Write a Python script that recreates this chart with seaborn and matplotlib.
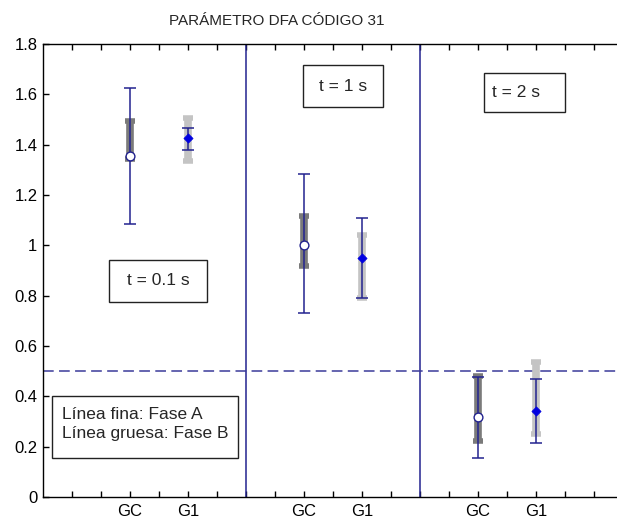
import numpy as np
import pandas as pd
import matplotlib
matplotlib.use("Agg")
import matplotlib.pyplot as plt
import seaborn as sns
from matplotlib.patches import Rectangle

# valores
grupos = ["GC", "G1", "GC", "G1", "GC", "G1"]
posiciones = [3, 5, 9, 11, 15, 17]
media = [1.355, 1.425, 1.0, 0.95, 0.317, 0.343]
fase_a_inf = [1.085, 1.38, 0.73, 0.79, 0.155, 0.216]
fase_a_sup = [1.625, 1.468, 1.283, 1.108, 0.478, 0.468]
fase_b_inf = [1.343, 1.336, 0.918, 0.79, 0.224, 0.25]
fase_b_sup = [1.495, 1.507, 1.118, 1.042, 0.48, 0.536]
separadores = [7, 13]
umbral = 0.5
titulo = "PARÁMETRO DFA CÓDIGO 31"

df = pd.DataFrame({"grupo": grupos, "x": posiciones, "media": media,
                   "a_inf": fase_a_inf, "a_sup": fase_a_sup,
                   "b_inf": fase_b_inf, "b_sup": fase_b_sup})

sns.set_style("ticks")
plt.rcParams["font.family"] = ["Liberation Sans", "DejaVu Sans"]
plt.rcParams["font.size"] = 11

azul = "#23238f"
fig = plt.figure(figsize=(6.17, 5.21), dpi=100)
ax = fig.add_axes([43 / 617, 24 / 521, 580 / 617, 453 / 521])

# linea gruesa: fase B
for _, r in df.iterrows():
    gris = "#7a7a7a" if r["grupo"] == "GC" else "#c4c4c4"
    mid = (r["b_inf"] + r["b_sup"]) / 2
    ax.errorbar(r["x"], mid, yerr=[[mid - r["b_inf"]], [r["b_sup"] - mid]],
                fmt="none", ecolor=gris, elinewidth=5.5, capsize=3.5,
                capthick=4, zorder=2)
    # linea fina: fase A
    ax.errorbar(r["x"], r["media"],
                yerr=[[r["media"] - r["a_inf"]], [r["a_sup"] - r["media"]]],
                fmt="none", ecolor=azul, elinewidth=1.1, capsize=4,
                capthick=1.1, zorder=3)

sns.scatterplot(data=df[df["grupo"] == "GC"], x="x", y="media", ax=ax,
                marker="o", s=40, color="white", edgecolor=azul,
                linewidth=1, zorder=4, legend=False)
sns.scatterplot(data=df[df["grupo"] == "G1"], x="x", y="media", ax=ax,
                marker="D", s=22, color="#0000e0", edgecolor="#0000e0",
                linewidth=0.5, zorder=4, legend=False)

for s in separadores:
    ax.axvline(s, color=azul, lw=1.1, zorder=1)
ax.axhline(umbral, color="#3a3a9a", lw=1.1, dashes=(7, 3.5), zorder=1)

ax.set_xlim(0, 20)
ax.set_ylim(0, 1.8)
ax.set_xticks(range(1, 20))
etiquetas = [""] * 19
for g, p in zip(grupos, posiciones):
    etiquetas[p - 1] = g
ax.set_xticklabels(etiquetas)
ax.set_yticks(np.arange(0, 1.81, 0.2))
ax.set_yticklabels(["0", "0.2", "0.4", "0.6", "0.8", "1", "1.2", "1.4", "1.6", "1.8"])
ax.tick_params(direction="in", length=4, width=1, top=True, right=True,
               labelsize=12, colors="black", pad=4)
ax.tick_params(axis="x", pad=5)
ax.set_xlabel("")
ax.set_ylabel("")
for sp in ax.spines.values():
    sp.set_linewidth(1)
    sp.set_color("black")

# cuadros de texto
cuadros = [(2.28, 0.776, 3.36, 0.166, "t = 0.1 s", 3.96, 0.859, "center"),
           (8.96, 1.548, 2.75, 0.168, "t = 1 s", 10.33, 1.632, "center"),
           (15.21, 1.531, 2.79, 0.155, "t = 2 s", 15.47, 1.608, "left"),
           (0.32, 0.154, 6.41, 0.247, "Línea fina: Fase A\nLínea gruesa: Fase B",
            0.64, 0.29, "left")]
for x0, y0, w, h, txt, tx, ty, ha in cuadros:
    ax.add_patch(Rectangle((x0, y0), w, h, fill=True, fc="white", ec="#222222",
                           lw=1, zorder=5))
    ax.text(tx, ty, txt, ha=ha, va="center", fontsize=12.5, zorder=6,
            linespacing=1.35)

fig.text(277 / 617, 1 - 21 / 521, titulo, ha="center", va="center", fontsize=11)

fig.savefig("out.png", dpi=100)
